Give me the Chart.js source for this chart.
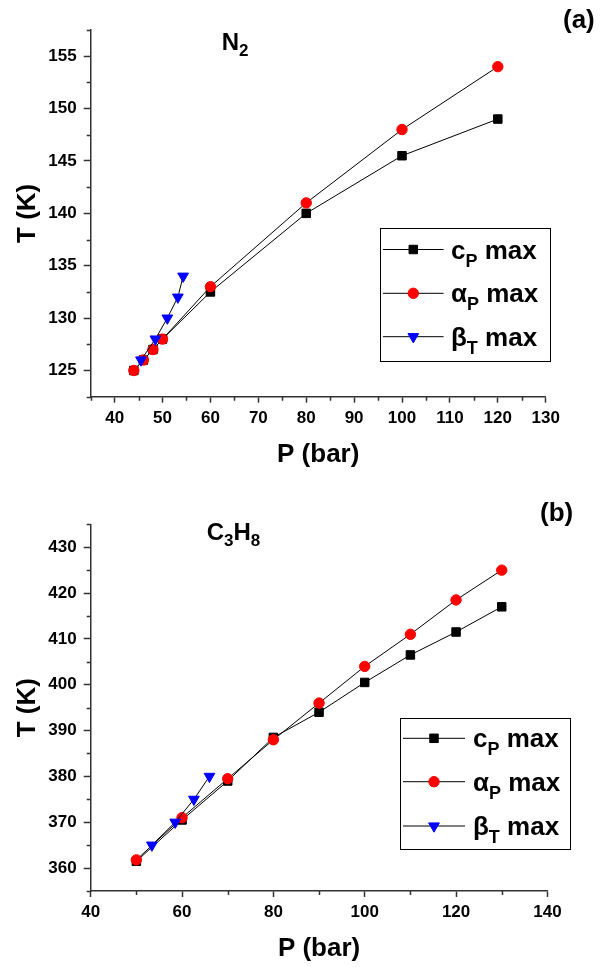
<!DOCTYPE html>
<html>
<head>
<meta charset="utf-8">
<title>Maxima lines: N2 and C3H8</title>
<script src="https://cdn.jsdelivr.net/npm/chart.js@4.4.1/dist/chart.umd.min.js"></script>
<style>
  html, body { margin: 0; padding: 0; background: #fff; }
  #wrap { position: relative; width: 609px; height: 967px; }
  canvas { position: absolute; left: 0; }
  #chart-n2 { top: 0; }
  #chart-c3h8 { top: 487px; }
</style>
</head>
<body>
<div id="wrap">
  <canvas id="chart-n2" width="609" height="487"></canvas>
  <canvas id="chart-c3h8" width="609" height="480"></canvas>
</div>
<script>
// ---- N2 (panel a) ----
const n2P_cp    = [44, 46, 48, 50, 60, 80, 100, 120];
const n2T_cp    = [125, 126, 127, 128, 132.5, 140, 145.5, 149];
const n2P_alpha = [44, 46, 48, 50, 60, 80, 100, 120];
const n2T_alpha = [125, 126, 127, 128, 133, 141, 148, 154];
const n2P_beta  = [45.5, 48.5, 51, 53.2, 54.3];
const n2T_beta  = [126, 128, 130, 132, 134];

const n2XTicks = [40, 50, 60, 70, 80, 90, 100, 110, 120, 130];
const n2XMinor = [35, 45, 55, 65, 75, 85, 95, 105, 115, 125];
const n2YTicks = [125, 130, 135, 140, 145, 150, 155];
const n2YMinor = [122.5, 127.5, 132.5, 137.5, 142.5, 147.5, 152.5, 157.5];

// ---- C3H8 (panel b) ----
const c3P_cp    = [50, 60, 70, 80, 90, 100, 110, 120, 130];
const c3T_cp    = [361.5, 370.5, 379, 388.5, 394, 400.5, 406.5, 411.5, 417];
const c3P_alpha = [50, 60, 70, 80, 90, 100, 110, 120, 130];
const c3T_alpha = [361.8, 371, 379.5, 388, 396, 404, 411, 418.5, 425];
const c3P_beta  = [53.4, 58.5, 62.6, 66];
const c3T_beta  = [365, 370, 375, 380];

const c3XTicks = [40, 60, 80, 100, 120, 140];
const c3XMinor = [50, 70, 90, 110, 130];
const c3YTicks = [360, 370, 380, 390, 400, 410, 420, 430];
const c3YMinor = [355, 365, 375, 385, 395, 405, 415, 425, 435];

const FONT = "'Liberation Sans', Arial, Helvetica, sans-serif";
const AXIS_COLOR = '#333';

function pairs(px, ty) {
  return px.map((p, i) => ({ x: p, y: ty[i] }));
}

// legend/marker styles shared by both panels
const markers = {
  cp:    { pointStyle: 'rect',     radius: 6,   rotation: 0,   color: '#000000' },
  alpha: { pointStyle: 'circle',   radius: 5.2, rotation: 0,   color: '#ff0000' },
  beta:  { pointStyle: 'triangle', radius: 6.2, rotation: 180, color: '#0000ff' }
};

function dataset(label, data, m, order) {
  return {
    label: label,
    data: data,
    order: order,
    borderColor: '#000',
    borderWidth: 1,
    fill: false,
    tension: 0,
    pointStyle: m.pointStyle,
    pointRotation: m.rotation,
    pointRadius: m.radius,
    pointBackgroundColor: m.color,
    pointBorderColor: m.color,
    pointBorderWidth: 1
  };
}

// draws "main" text with subscript parts, e.g. [['N'], ['2', true]]
function drawRich(ctx, parts, x, y, size, subSize, subShift) {
  let cx = x;
  ctx.textAlign = 'left';
  ctx.textBaseline = 'alphabetic';
  ctx.fillStyle = '#000';
  for (const [txt, sub] of parts) {
    ctx.font = 'bold ' + (sub ? subSize : size) + 'px ' + FONT;
    ctx.fillText(txt, cx, sub ? y + subShift : y);
    cx += ctx.measureText(txt).width;
  }
}

const figureExtras = {
  id: 'figureExtras',
  afterDraw(chart, args, o) {
    const ctx = chart.ctx;
    const xs = chart.scales.x, ys = chart.scales.y;
    const area = chart.chartArea;
    ctx.save();

    // minor ticks
    ctx.strokeStyle = AXIS_COLOR;
    ctx.lineWidth = 1.5;
    ctx.beginPath();
    for (const v of o.xMinor) {
      const px = Math.round(xs.getPixelForValue(v)) + 0.5;
      ctx.moveTo(px, area.bottom);
      ctx.lineTo(px, area.bottom + 4);
    }
    for (const v of o.yMinor) {
      const py = Math.round(ys.getPixelForValue(v)) + 0.5;
      ctx.moveTo(area.left, py);
      ctx.lineTo(area.left - 4, py);
    }
    ctx.stroke();

    // compound name and panel letter
    drawRich(ctx, o.formula, o.formulaX, o.formulaY, 24, 17, 6);
    ctx.font = 'bold 26px ' + FONT;
    ctx.fillText(o.panel, o.panelX, o.panelY);

    // legend box
    const L = o.legend;
    ctx.strokeStyle = '#000';
    ctx.lineWidth = 1;
    ctx.strokeRect(L.x0 + 0.5, L.y0 + 0.5, L.x1 - L.x0, L.y1 - L.y0);
    o.entries.forEach((e, i) => {
      const y = L.rowY[i];
      ctx.strokeStyle = '#000';
      ctx.lineWidth = 1;
      ctx.beginPath();
      ctx.moveTo(L.lineX0, y);
      ctx.lineTo(L.lineX1, y);
      ctx.stroke();
      const m = markers[e.key];
      ctx.fillStyle = m.color;
      ctx.strokeStyle = m.color;
      Chart.helpers.drawPoint(ctx, { pointStyle: m.pointStyle, rotation: m.rotation, radius: m.radius, borderWidth: 1 },
        (L.lineX0 + L.lineX1) / 2, y);
      drawRich(ctx, e.parts, L.textX, y + 9, 26, 18, 8);
    });
    ctx.restore();
  }
};

const legendEntries = [
  { key: 'cp',    parts: [['c'], ['P', true], [' max']] },
  { key: 'alpha', parts: [['α'], ['P', true], [' max']] },
  { key: 'beta',  parts: [['β'], ['T', true], [' max']] }
];

function makeChart(id, cfg) {
  const tickFont = { family: FONT, size: 17, weight: 'bold' };
  const titleFont = { family: FONT, size: 26, weight: 'bold' };
  return new Chart(document.getElementById(id), {
    type: 'line',
    data: { datasets: cfg.datasets },
    options: {
      responsive: false,
      animation: false,
      events: [],
      layout: { padding: cfg.padding },
      plugins: {
        legend: { display: false },
        tooltip: { enabled: false },
        figureExtras: cfg.extras
      },
      scales: {
        x: {
          type: 'linear',
          min: cfg.xMin, max: cfg.xMax,
          afterBuildTicks: s => { s.ticks = cfg.xTicks.map(v => ({ value: v })); },
          afterFit: s => { s.height = 73.6; s.paddingLeft = 0; s.paddingRight = 0; },
          grid: { drawOnChartArea: false, tickLength: 6, tickColor: AXIS_COLOR, tickWidth: 1.5 },
          border: { color: AXIS_COLOR, width: 1.5 },
          ticks: { font: tickFont, color: '#000', padding: 5, maxRotation: 0, autoSkip: false },
          title: { display: true, text: 'P (bar)', font: titleFont, color: '#000', padding: 0 }
        },
        y: {
          type: 'linear',
          min: cfg.yMin, max: cfg.yMax,
          afterBuildTicks: s => { s.ticks = cfg.yTicks.map(v => ({ value: v })); },
          afterFit: s => { s.width = 90.7; s.paddingTop = 0; s.paddingBottom = 0; },
          grid: { drawOnChartArea: false, tickLength: 7, tickColor: AXIS_COLOR, tickWidth: 1.5 },
          border: { color: AXIS_COLOR, width: 1.5 },
          ticks: { font: tickFont, color: '#000', padding: 7, autoSkip: false },
          title: { display: true, text: 'T (K)', font: titleFont, color: '#000', padding: { top: 12.4, bottom: 0 } }
        }
      }
    },
    plugins: [figureExtras]
  });
}

makeChart('chart-n2', {
  datasets: [
    dataset('cP max', pairs(n2P_cp, n2T_cp), markers.cp, 3),
    dataset('αP max', pairs(n2P_alpha, n2T_alpha), markers.alpha, 2),
    dataset('βT max', pairs(n2P_beta, n2T_beta), markers.beta, 1)
  ],
  xMin: 35, xMax: 130, yMin: 122.5, yMax: 157.5,
  xTicks: n2XTicks, yTicks: n2YTicks,
  padding: { left: 0, top: 30, right: 63.3, bottom: 16.7 },
  extras: {
    xMinor: n2XMinor, yMinor: n2YMinor,
    formula: [['N'], ['2', true]], formulaX: 221.7, formulaY: 50,
    panel: '(a)', panelX: 563, panelY: 28,
    legend: { x0: 380, y0: 228, x1: 550, y1: 361, rowY: [249.5, 293.3, 336.7], lineX0: 383, lineX1: 443.6, textX: 451 },
    entries: legendEntries
  }
});

makeChart('chart-c3h8', {
  datasets: [
    dataset('cP max', pairs(c3P_cp, c3T_cp), markers.cp, 3),
    dataset('αP max', pairs(c3P_alpha, c3T_alpha), markers.alpha, 2),
    dataset('βT max', pairs(c3P_beta, c3T_beta), markers.beta, 1)
  ],
  xMin: 40, xMax: 140, yMin: 355, yMax: 435,
  xTicks: c3XTicks, yTicks: c3YTicks,
  padding: { left: 0, top: 37.3, right: 61.6, bottom: 2.4 },
  extras: {
    xMinor: c3XMinor, yMinor: c3YMinor,
    formula: [['C'], ['3', true], ['H'], ['8', true]], formulaX: 206.7, formulaY: 53,
    panel: '(b)', panelX: 540, panelY: 34,
    legend: { x0: 400, y0: 231, x1: 570, y1: 362, rowY: [251.3, 294.7, 339], lineX0: 403, lineX1: 465, textX: 473 },
    entries: legendEntries
  }
});
</script>
</body>
</html>
